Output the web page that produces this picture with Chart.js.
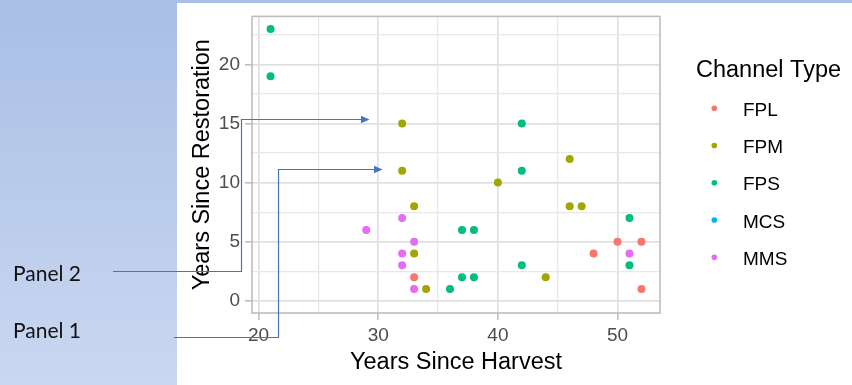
<!DOCTYPE html>
<html>
<head>
<meta charset="utf-8">
<script src="https://cdn.jsdelivr.net/npm/chart.js@4.4.1/dist/chart.umd.min.js"></script>
<style>
  body { margin: 0; width: 852px; height: 385px; position: relative; overflow: hidden; background: #fff; }
  #side { position: absolute; left: 0; top: 0; width: 177px; height: 385px; background: linear-gradient(#A8BFE6, #CAD7F0); }
  #strip { position: absolute; left: 0; top: 0; width: 852px; height: 3px; background: #A9C0E7; }
  #wrap { position: absolute; left: 0; top: 0; width: 852px; height: 385px; }
  #notes { position: absolute; left: 0; top: 0; }
</style>
</head>
<body>
<div id="side"></div>
<div id="strip"></div>
<div id="wrap"><canvas id="channelChart" width="852" height="385"></canvas></div>
<svg id="notes" width="852" height="385">
  <g stroke="#4673C3" stroke-width="1.2" fill="none">
    <polyline points="113,271.5 241.5,271.5 241.5,119.5 362,119.5"/>
    <polyline points="174,337.5 278.5,337.5 278.5,169.5 375,169.5"/>
  </g>
  <g fill="#4673C3">
    <polygon points="369.5,119.5 361,115.8 361,123.2"/>
    <polygon points="382.5,169.5 374,165.8 374,173.2"/>
  </g>
  <g font-family="Lato, 'Open Sans', sans-serif" font-size="21" fill="#111">
    <text x="13" y="280.5">Panel 2</text>
    <text x="13" y="337.5">Panel 1</text>
  </g>
</svg>
<script>
// channel types and ggplot default hues
const channelTypes = ['FPL', 'FPM', 'FPS', 'MCS', 'MMS'];
const channelColors = ['#F8766D', '#A3A500', '#00BF7D', '#00B0F6', '#E76BF3'];

// years since harvest (x) / years since restoration (y), per channel type
const fplHarvest = [33, 48, 50, 52, 52];
const fplRestoration = [2, 4, 5, 5, 1];
const fpmHarvest = [32, 32, 33, 33, 34, 40, 46, 46, 47, 44];
const fpmRestoration = [15, 11, 8, 4, 1, 10, 12, 8, 8, 2];
const fpsHarvest = [21, 21, 42, 42, 37, 38, 37, 38, 36, 42, 51, 51];
const fpsRestoration = [23, 19, 15, 11, 6, 6, 2, 2, 1, 3, 7, 3];
const mcsHarvest = [];
const mcsRestoration = [];
const mmsHarvest = [29, 32, 33, 32, 32, 33, 51];
const mmsRestoration = [6, 7, 5, 4, 3, 1, 4];

const xTicks = [20, 30, 40, 50];
const yTicks = [0, 5, 10, 15, 20];
const xLimits = [19.45, 53.55];
const yLimits = [-1.03, 24.06];

const harvestSets = [fplHarvest, fpmHarvest, fpsHarvest, mcsHarvest, mmsHarvest];
const restorationSets = [fplRestoration, fpmRestoration, fpsRestoration, mcsRestoration, mmsRestoration];

function withMinor(major, lim) {
  var step = major[1] - major[0];
  var all = major.slice();
  all.push(major[0] - step / 2);
  major.forEach(function(v) { all.push(v + step / 2); });
  return all.filter(function(v) { return v > lim[0] && v < lim[1]; }).sort(function(a, b) { return a - b; });
}

var tickFont = { family: "'Liberation Sans', Arial, sans-serif", size: 19 };
var titleFont = { family: "'Liberation Sans', Arial, sans-serif", size: 23.5 };

function axisOpts(major, lim, title, isY) {
  return {
    type: 'linear',
    min: lim[0],
    max: lim[1],
    afterBuildTicks: function(axis) {
      axis.ticks = withMinor(major, lim).map(function(v) { return { value: v }; });
    },
    afterFit: function(axis) {
      if (isY) axis.width = 75; else axis.height = 72;
    },
    border: { display: false },
    grid: {
      color: function(c) { return major.includes(c.tick.value) ? '#E0E0E0' : '#E8E8E8'; },
      lineWidth: function(c) { return major.includes(c.tick.value) ? 1.7 : 1.3; },
      tickColor: function(c) { return major.includes(c.tick.value) ? '#B5B5B5' : 'rgba(0,0,0,0)'; },
      tickLength: 7,
      tickWidth: 1.4
    },
    ticks: {
      autoSkip: false,
      maxRotation: 0,
      padding: isY ? 5 : 4,
      color: '#4D4D4D',
      font: tickFont,
      callback: function(v) { return major.includes(v) ? v : ''; }
    },
    title: {
      display: true,
      text: title,
      color: '#000',
      font: titleFont,
      padding: isY ? { top: 11, bottom: 0 } : { top: 0, bottom: 8 }
    }
  };
}

// grey panel border drawn over the points, like ggplot
var panelBorder = {
  id: 'panelBorder',
  afterDatasetsDraw: function(chart) {
    var a = chart.chartArea, ctx = chart.ctx;
    ctx.save();
    ctx.strokeStyle = '#BDBDBD';
    ctx.lineWidth = 1.6;
    ctx.strokeRect(a.left, a.top, a.right - a.left, a.bottom - a.top);
    ctx.restore();
  }
};

// legend on the right with a title, ggplot style
var sideLegend = {
  id: 'sideLegend',
  afterDraw: function(chart) {
    var ctx = chart.ctx;
    ctx.save();
    ctx.fillStyle = '#000';
    ctx.textBaseline = 'alphabetic';
    ctx.font = "23.5px 'Liberation Sans', Arial, sans-serif";
    ctx.fillText('Channel Type', 696, 76.7);
    ctx.font = "19px 'Liberation Sans', Arial, sans-serif";
    chart.data.datasets.forEach(function(ds, i) {
      var y = 108.3 + i * 37.25;
      ctx.fillStyle = ds.backgroundColor;
      ctx.beginPath();
      ctx.arc(714.3, y, 2.8, 0, Math.PI * 2);
      ctx.fill();
      ctx.fillStyle = '#000';
      ctx.fillText(ds.label, 743, y + 7.6);
    });
    ctx.restore();
  }
};

var ctx1 = document.getElementById('channelChart').getContext('2d');
var channelChart = new Chart(ctx1, {
  type: 'scatter',
  data: {
    datasets: channelTypes.map(function(name, i) {
      return {
        label: name,
        data: harvestSets[i].map(function(x, j) { return { x: x, y: restorationSets[i][j] }; }),
        backgroundColor: channelColors[i],
        borderWidth: 0,
        pointRadius: 4,
        pointHoverRadius: 4
      };
    })
  },
  options: {
    responsive: false,
    animation: false,
    layout: { padding: { left: 177, right: 192, top: 15, bottom: 0 } },
    plugins: {
      legend: { display: false },
      tooltip: { enabled: false }
    },
    scales: {
      x: axisOpts(xTicks, xLimits, 'Years Since Harvest', false),
      y: axisOpts(yTicks, yLimits, 'Years Since Restoration', true)
    }
  },
  plugins: [panelBorder, sideLegend]
});
</script>
</body>
</html>
